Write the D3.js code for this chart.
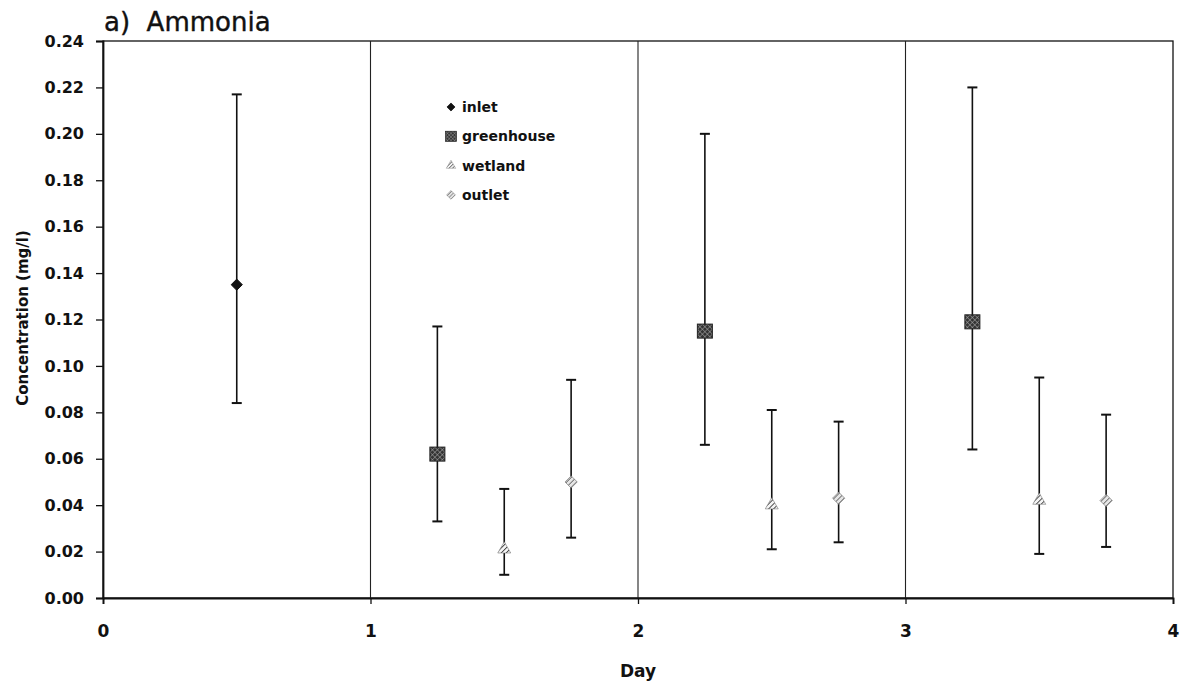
<!DOCTYPE html>
<html>
<head>
  <meta charset="utf-8" />
  <script src="https://d3js.org/d3.v7.min.js"></script>
  <style>
    body { margin: 0; background: #fff; }
    text { font-family: "DejaVu Sans", Arial, sans-serif; }
  </style>
</head>
<body>
  <div id="chart"></div>
  <script type="text/javascript">

    // data
    var series = ["inlet", "greenhouse", "wetland", "outlet"];
    var days = [0.5, 1.25, 1.5, 1.75, 2.25, 2.5, 2.75, 3.25, 3.5, 3.75];
    var groups = ["inlet", "greenhouse", "wetland", "outlet", "greenhouse", "wetland", "outlet", "greenhouse", "wetland", "outlet"];
    var means = [0.135, 0.062, 0.021, 0.050, 0.115, 0.040, 0.043, 0.119, 0.042, 0.042];
    var highs = [0.217, 0.117, 0.047, 0.094, 0.200, 0.081, 0.076, 0.220, 0.095, 0.079];
    var lows = [0.084, 0.033, 0.010, 0.026, 0.066, 0.021, 0.024, 0.064, 0.019, 0.022];
    var yTicks = [0, 0.02, 0.04, 0.06, 0.08, 0.10, 0.12, 0.14, 0.16, 0.18, 0.20, 0.22, 0.24];
    var xTicks = [0, 1, 2, 3, 4];

    var W = 1184, H = 685;
    var margin = { left: 103, right: 11, top: 41, bottom: 87 };

    var svg = d3.select("#chart").append("svg")
      .attr("width", W).attr("height", H);

    // hatch patterns for the grey markers
    var defs = svg.append("defs");
    function hatch(id, bg, fg, w, size, cross) {
      var p = defs.append("pattern").attr("id", id)
        .attr("width", size).attr("height", size)
        .attr("patternUnits", "userSpaceOnUse")
        .attr("patternTransform", "rotate(45)");
      p.append("rect").attr("width", size).attr("height", size).attr("fill", bg);
      p.append("line").attr("x1", 0).attr("y1", 0).attr("x2", 0).attr("y2", size)
        .attr("stroke", fg).attr("stroke-width", w);
      if (cross) {
        p.append("line").attr("x1", 0).attr("y1", 0).attr("x2", size).attr("y2", 0)
          .attr("stroke", fg).attr("stroke-width", w);
      }
    }
    hatch("hGreen", "#333", "#aaa", 1, 3.5, true);
    hatch("hWet", "#f4f4f4", "#2a2a2a", 1.6, 3.5, false);
    hatch("hOut", "#e6e6e6", "#4a4a4a", 1.4, 3.5, false);

    var x = d3.scaleLinear().domain([0, 4]).range([margin.left, W - margin.right]);
    var y = d3.scaleLinear().domain([0, 0.24]).range([H - margin.bottom, margin.top]);

    // plot frame
    svg.append("rect")
      .attr("x", x(0)).attr("y", y(0.24))
      .attr("width", x(4) - x(0)).attr("height", y(0) - y(0.24))
      .attr("fill", "none").attr("stroke", "#111").attr("stroke-width", 1.3);

    // vertical day separators
    svg.selectAll(".vline").data([1, 2, 3]).enter().append("line")
      .attr("x1", d => x(d)).attr("x2", d => x(d))
      .attr("y1", y(0)).attr("y2", y(0.24))
      .attr("stroke", "#222").attr("stroke-width", 1.1);

    var yAxis = svg.append("g")
      .attr("transform", "translate(" + x(0) + ",0)")
      .call(d3.axisLeft(y).tickValues(yTicks).tickFormat(d3.format(".2f")).tickSize(7).tickPadding(12));
    var xAxis = svg.append("g")
      .attr("transform", "translate(0," + y(0) + ")")
      .call(d3.axisBottom(x).tickValues(xTicks).tickFormat(d3.format("d")).tickSize(6).tickPadding(21));
    [yAxis, xAxis].forEach(function (a) {
      a.select(".domain").attr("stroke", "#111").attr("stroke-width", 1.8);
      a.selectAll(".tick line").attr("stroke", "#111").attr("stroke-width", 1.3);
      a.selectAll("text").attr("fill", "#111")
        .style("font-weight", "bold")
        .style("font-family", "'DejaVu Sans', Arial, sans-serif");
    });
    yAxis.selectAll("text").style("font-size", "16px");
    xAxis.selectAll("text").style("font-size", "17px");

    // titles
    svg.append("text").attr("x", 104).attr("y", 31)
      .style("font-size", "26px").style("white-space", "pre").attr("fill", "#111")
      .attr("stroke", "#111").attr("stroke-width", 0.4)
      .text("a)  Ammonia");
    svg.append("text")
      .attr("transform", "translate(28," + 318 + ") rotate(-90)")
      .attr("text-anchor", "middle")
      .style("font-size", "15px").style("font-weight", "bold").attr("fill", "#111")
      .text("Concentration (mg/l)");
    svg.append("text").attr("x", x(2)).attr("y", 677)
      .attr("text-anchor", "middle")
      .style("font-size", "17px").style("font-weight", "bold").attr("fill", "#111")
      .text("Day");

    var points = days.map(function (d, i) {
      return { day: d, group: groups[i], mean: means[i], hi: highs[i], lo: lows[i] };
    });

    // error bars
    var bars = svg.selectAll(".err").data(points).enter().append("g");
    bars.append("line")
      .attr("x1", d => x(d.day)).attr("x2", d => x(d.day))
      .attr("y1", d => y(d.hi)).attr("y2", d => y(d.lo))
      .attr("stroke", "#111").attr("stroke-width", 1.6);
    bars.selectAll(".cap").data(d => [[d.day, d.hi], [d.day, d.lo]]).enter().append("line")
      .attr("x1", d => x(d[0]) - 5).attr("x2", d => x(d[0]) + 5)
      .attr("y1", d => y(d[1])).attr("y2", d => y(d[1]))
      .attr("stroke", "#111").attr("stroke-width", 2);

    function marker(sel, g) {
      if (g === "inlet") {
        sel.append("path").attr("d", d3.symbol(d3.symbolDiamond2, 80)())
          .attr("fill", "#111").attr("stroke", "#111").attr("stroke-width", 1);
      } else if (g === "greenhouse") {
        sel.append("rect").attr("x", -7.5).attr("y", -7).attr("width", 15).attr("height", 14)
          .attr("fill", "url(#hGreen)").attr("stroke", "#222").attr("stroke-width", 1);
      } else if (g === "wetland") {
        sel.append("path").attr("d", d3.symbol(d3.symbolTriangle2, 120)())
          .attr("fill", "url(#hWet)").attr("stroke", "#777").attr("stroke-width", 0.6);
      } else {
        sel.append("path").attr("d", d3.symbol(d3.symbolDiamond2, 95)())
          .attr("fill", "url(#hOut)").attr("stroke", "#777").attr("stroke-width", 0.7);
      }
    }

    svg.selectAll(".pt").data(points).enter().append("g")
      .attr("transform", d => "translate(" + x(d.day) + "," + y(d.mean) + ")")
      .each(function (d) { marker(d3.select(this), d.group); });

    // legend
    var leg = svg.selectAll(".leg").data(series).enter().append("g")
      .attr("transform", (d, i) => "translate(451," + (107 + i * 29.3) + ")");
    leg.append("g").attr("transform", "scale(0.72)").each(function (d) { marker(d3.select(this), d); });
    leg.append("text").attr("x", 11).attr("y", 5)
      .style("font-size", "14px").style("font-weight", "bold").attr("fill", "#111")
      .text(d => d);

  </script>
</body>
</html>
